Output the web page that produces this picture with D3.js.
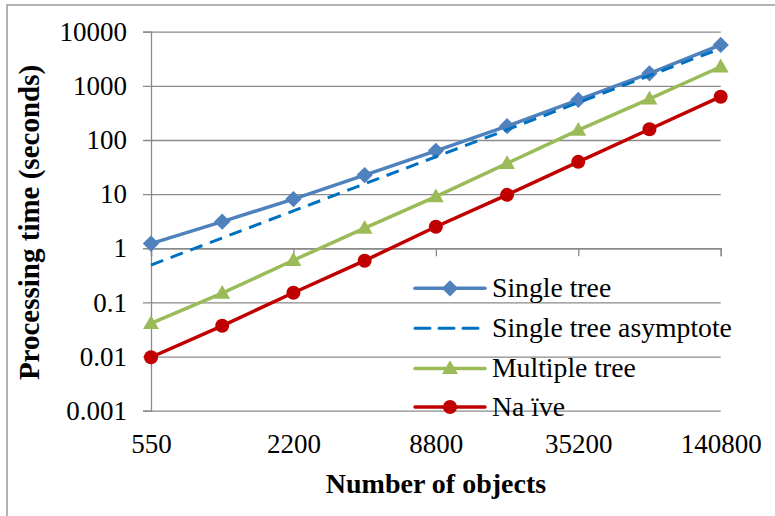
<!DOCTYPE html>
<html><head><meta charset="utf-8">
<script src="https://cdn.jsdelivr.net/npm/d3@7"></script>
<style>body{margin:0;background:#fff}svg{display:block}text{font-family:'Liberation Serif','Times New Roman',serif}</style>
</head><body>
<svg id="c" width="775" height="516"></svg>
<script>
const categories = ["550","1100","2200","4400","8800","17600","35200","70400","140800"];
const xTickLabels = ["550","2200","8800","35200","140800"];
const yTicks = [0.001,0.01,0.1,1,10,100,1000,10000];
const yTickLabels = ["0.001","0.01","0.1","1","10","100","1000","10000"];
const singleTree = [1.22, 3.1, 8.1, 22.5, 63, 180, 550, 1700, 5700];
const singleTreeAsymptote = [0.49, 1.55, 4.9, 15.5, 49, 155, 490, 1550, 4900];
const multipleTree = [0.041, 0.148, 0.6, 2.35, 9.0, 37, 152, 575, 2250];
const naive = [0.0097, 0.037, 0.151, 0.59, 2.5, 9.7, 39.5, 158, 630];
const seriesNames = ["Single tree","Single tree asymptote","Multiple tree","Na ïve"];

const font = "'Liberation Serif','Times New Roman',serif";
const grid = "#8a8a8a";
const svg = d3.select("#c");

// frame
svg.append("rect").attr("x",7).attr("y",5).attr("width",800).attr("height",540)
  .attr("fill","none").attr("stroke",grid).attr("stroke-width",1.3);

const L=151, R=720.7, T=31.7, B=410.7;
const x = d3.scalePoint().domain(categories).range([L,R]);
const y = d3.scaleLog().domain([0.001,10000]).range([B,T]);

// y axis with gridlines
const yAxis = d3.axisLeft(y).tickValues(yTicks).tickSize(8).tickPadding(16)
  .tickFormat((d,i)=>yTickLabels[i]);
const gy = svg.append("g").attr("transform",`translate(${L},0)`).call(yAxis);
gy.attr("font-family",null).attr("font-size",null);
gy.select(".domain").attr("stroke",grid).attr("stroke-width",1.3);
gy.selectAll(".tick line").attr("stroke",grid).attr("stroke-width",1.3)
  .attr("x1",R-L);
gy.selectAll(".tick text").style("font-family",font).style("font-size","27px").attr("fill","#000");

// x axis line at y=1 with tick marks every other category
const xMajor = categories.filter((d,i)=>i%2===0);
const xAxisTicks = d3.axisBottom(x).tickValues(xMajor).tickSize(8).tickFormat("");
const gx = svg.append("g").attr("transform",`translate(0,${y(1)})`).call(xAxisTicks);
gx.select(".domain").attr("stroke",grid).attr("stroke-width",1.3);
gx.selectAll(".tick line").attr("stroke",grid).attr("stroke-width",1.3);

// x labels at bottom
const xLab = d3.axisBottom(x).tickValues(xTickLabels).tickSize(0).tickPadding(0);
const gxl = svg.append("g").attr("transform",`translate(0,${B})`).call(xLab);
gxl.attr("font-family",null).attr("font-size",null);
gxl.select(".domain").remove();
gxl.selectAll(".tick text").style("font-family",font).style("font-size","27px").attr("fill","#000")
  .attr("dy",null).attr("y",42.5);

// axis titles
svg.append("text").attr("x",436).attr("y",493).attr("text-anchor","middle")
  .style("font-family",font).style("font-size","28px").style("font-weight","bold").text("Number of objects");
svg.append("text").attr("transform","translate(39,222.5) rotate(-90)").attr("text-anchor","middle")
  .style("font-family",font).style("font-size","29px").style("font-weight","bold").text("Processing time (seconds)");

const line = d3.line().x((d,i)=>x(categories[i])).y(d=>y(d));

const styles = [
  {data:singleTree, color:"#4F81BD", w:3.5, dash:null, marker:"diamond"},
  {data:singleTreeAsymptote, color:"#0070C0", w:3, dash:"13,8", marker:null},
  {data:multipleTree, color:"#9BBB59", w:3.5, dash:null, marker:"triangle"},
  {data:naive, color:"#C00000", w:3.5, dash:null, marker:"circle"}
];
const sym = {
  diamond: d3.symbol().type(d3.symbolDiamond2).size(170),
  triangle: d3.symbol().type(d3.symbolTriangle).size(110)
};
function drawMarker(g, type, cx, cy, color){
  if(type==="diamond"){
    g.append("path").attr("d",sym.diamond()).attr("transform",`translate(${cx},${cy})`).attr("fill",color);
  } else if(type==="triangle"){
    g.append("path").attr("d",sym.triangle()).attr("transform",`translate(${cx},${cy+1})`).attr("fill",color);
  } else if(type==="circle"){
    g.append("circle").attr("cx",cx).attr("cy",cy).attr("r",7).attr("fill",color);
  }
}
const order = [3,2,0,1];
order.forEach(k=>{
  const s = styles[k];
  const g = svg.append("g");
  g.append("path").datum(s.data).attr("d",line).attr("fill","none")
    .attr("stroke",s.color).attr("stroke-width",s.w).attr("stroke-dasharray",s.dash)
    .attr("stroke-linejoin","round");
  if(s.marker) s.data.forEach((v,i)=>drawMarker(g,s.marker,x(categories[i]),y(v),s.color));
});

// legend
const legY = [288.3, 328.3, 368.5, 407];
styles.forEach((s,k)=>{
  const g = svg.append("g");
  g.append("line").attr("x1",415).attr("x2",485).attr("y1",legY[k]).attr("y2",legY[k])
    .attr("stroke",s.color).attr("stroke-width",s.w).attr("stroke-dasharray",s.dash?"15,9":null)
    .attr("stroke-linecap", "round");
  if(s.marker) drawMarker(g,s.marker,450,legY[k],s.color);
  g.append("text").attr("x",492).attr("y",legY[k]+8.6)
    .style("font-family",font).style("font-size","27.7px").attr("fill","#000")
    .text(seriesNames[k]);
});
</script>
</body></html>
